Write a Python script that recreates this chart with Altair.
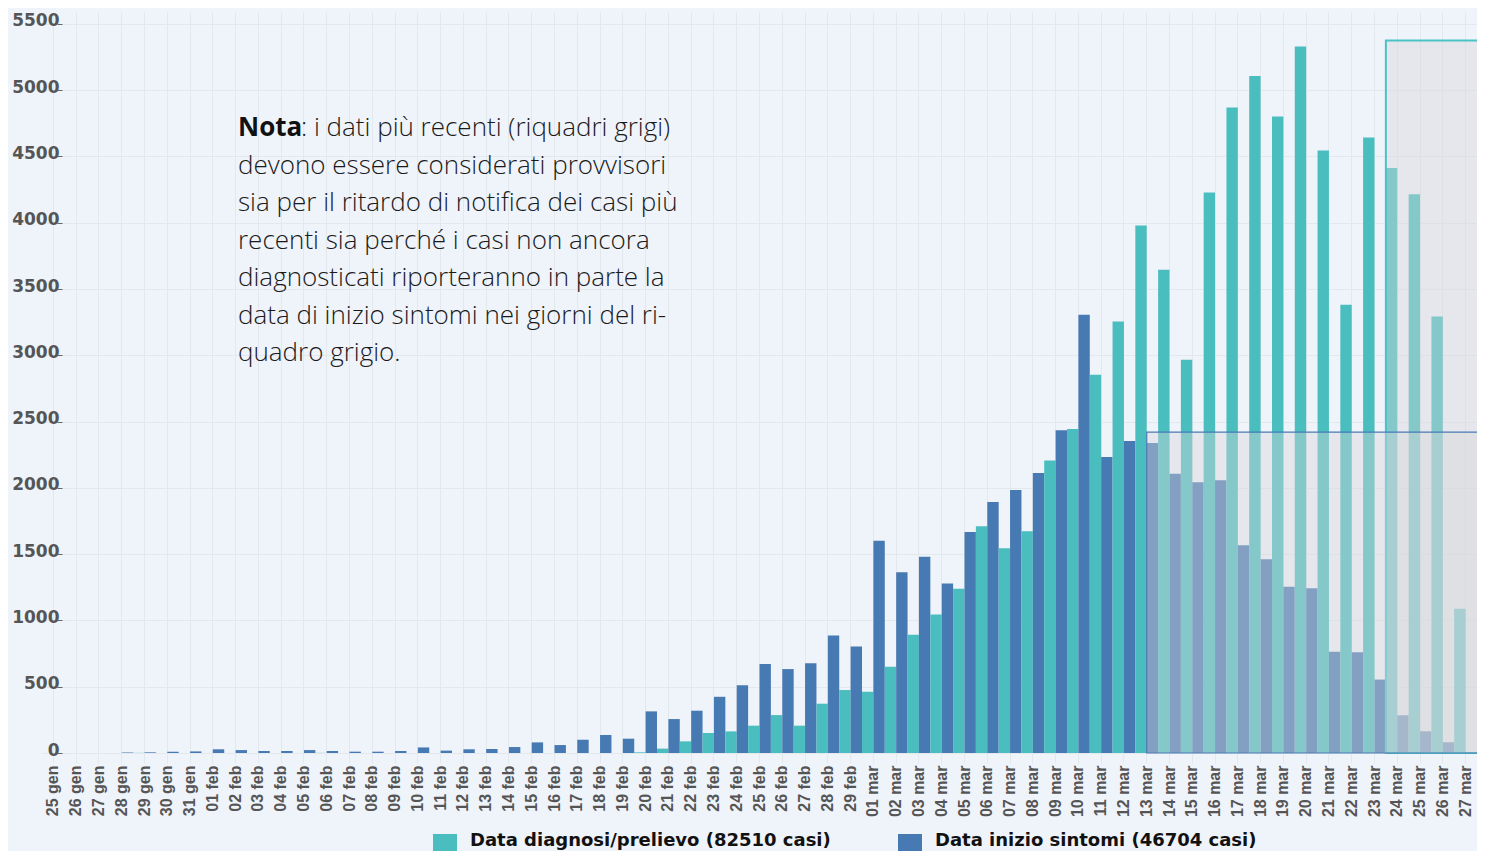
import altair as alt
import pandas as pd

# ---- data -------------------------------------------------------------
dates = [
    "25 gen", "26 gen", "27 gen", "28 gen", "29 gen", "30 gen", "31 gen",
    "01 feb", "02 feb", "03 feb", "04 feb", "05 feb", "06 feb", "07 feb",
    "08 feb", "09 feb", "10 feb", "11 feb", "12 feb", "13 feb", "14 feb",
    "15 feb", "16 feb", "17 feb", "18 feb", "19 feb", "20 feb", "21 feb",
    "22 feb", "23 feb", "24 feb", "25 feb", "26 feb", "27 feb", "28 feb",
    "29 feb",
    "01 mar", "02 mar", "03 mar", "04 mar", "05 mar", "06 mar", "07 mar",
    "08 mar", "09 mar", "10 mar", "11 mar", "12 mar", "13 mar", "14 mar",
    "15 mar", "16 mar", "17 mar", "18 mar", "19 mar", "20 mar", "21 mar",
    "22 mar", "23 mar", "24 mar", "25 mar", "26 mar", "27 mar",
]

diagnosi = [
    0, 0, 0, 0, 1, 0, 0,
    0, 0, 0, 0, 0, 1, 0, 0, 0, 0, 0, 0, 0, 0, 0, 0, 0, 0, 0,
    5, 33, 88, 151, 163, 206, 286, 206, 372, 475,
    462, 650, 893, 1044, 1240, 1710, 1544, 1672, 2207, 2444,
    2854, 3255, 3979, 3645, 2967, 4228, 4869, 5108, 4801, 5329,
    4545, 3381, 4643, 4414, 4216, 3293, 1089,
]

sintomi = [
    0, 0, 0, 3, 5, 10, 12,
    28, 22, 15, 15, 22, 15, 10, 10, 15, 42, 18, 28, 30, 45, 80, 60, 100, 136, 108,
    314, 256, 319, 424, 512, 671, 633, 678, 886, 803,
    1602, 1363, 1480, 1278, 1668, 1894, 1984, 2112, 2434, 3306,
    2233, 2354, 2339, 2107, 2042, 2057, 1567, 1461, 1255, 1243,
    763, 760, 554, 285, 164, 81, 0,
]

serie_names = ["Data diagnosi/prelievo (82510 casi)", "Data inizio sintomi (46704 casi)"]
serie_colors = ["#4abdbf", "#4779b2"]

y_ticks = [0, 500, 1000, 1500, 2000, 2500, 3000, 3500, 4000, 4500, 5000, 5500]

# grey "provisional" boxes (in day-index units, value units)
box_names = ["diagnosi", "sintomi"]
box_start = [59, 48.5]
box_end = [64, 64]
box_top = [5375, 2420]
box_stroke = ["#4bc3c6", "#4a7ab5"]
box_stroke_w = [2, 1.2]

nota_bold = "Nota"
nota_first = ": i dati più recenti (riquadri grigi)"
nota_lines = [
    "devono essere considerati provvisori",
    "sia per il ritardo di notifica dei casi più",
    "recenti sia perché i casi non ancora",
    "diagnosticati riporteranno in parte la",
    "data di inizio sintomi nei giorni del ri-",
    "quadro grigio.",
]

# ---- tables -------------------------------------------------------------
rows = []
for d, a, b in zip(dates, diagnosi, sintomi):
    rows.append({"data": d, "serie": serie_names[0], "casi": a})
    rows.append({"data": d, "serie": serie_names[1], "casi": b})
df = pd.DataFrame(rows)

box_df = pd.DataFrame({"nome": box_names, "start": box_start, "end": box_end, "top": box_top})

W, H = 1435, 741
YMAX = 5590
y_scale = alt.Scale(domain=[0, YMAX], nice=False, zero=True)
GRID = "#e3e8ed"

y_axis = alt.Axis(
    title=None,
    values=y_ticks,
    format="d",
    offset=-20,
    labelFont="DejaVu Sans",
    labelFontWeight="bold",
    labelFontSize=17,
    labelColor="#555555",
    tickSize=5,
    tickColor="#666666",
    labelPadding=-2,
    labelOffset=-3,
    domain=False,
    grid=True,
    gridColor=GRID,
)

bars = alt.Chart(df).mark_bar().encode(
    x=alt.X(
        "data:N",
        sort=dates,
        scale=alt.Scale(paddingInner=0, paddingOuter=0),
        axis=alt.Axis(
            title=None,
            labelAngle=270,
            labelAlign="right",
            labelBaseline="middle",
            labelFont="Liberation Sans",
            labelFontWeight="bold",
            labelFontSize=16,
            labelColor="#555555",
            labelPadding=2,
            tickSize=10,
            tickColor=GRID,
            domain=False,
            grid=True,
            gridColor=GRID,
            labelOverlap=False,
        ),
    ),
    xOffset=alt.XOffset("serie:N", sort=serie_names, scale=alt.Scale(paddingInner=0, paddingOuter=0)),
    y=alt.Y("casi:Q", scale=y_scale, axis=y_axis),
    color=alt.Color(
        "serie:N",
        scale=alt.Scale(domain=serie_names, range=serie_colors),
        legend=alt.Legend(
            title=None,
            orient="none",
            legendX=391,
            legendY=822,
            direction="horizontal",
            symbolType="square",
            symbolSize=576,
            symbolStrokeWidth=0,
            symbolOpacity=1,
            labelFont="DejaVu Sans",
            labelFontWeight="bold",
            labelFontSize=18,
            labelColor="#111111",
            labelBaseline="alphabetic",
            labelOffset=13,
            labelLimit=600,
            columnPadding=67,
            padding=0,
        ),
    ),
)

boxes = alt.Chart(box_df).mark_rect(fill="#d7d7d8", fillOpacity=0.42).encode(
    x=alt.X("start:Q", scale=alt.Scale(domain=[0, 63], nice=False, zero=False), axis=None),
    x2="end:Q",
    y=alt.Y("top:Q", scale=y_scale, axis=y_axis),
    y2=alt.datum(0),
    stroke=alt.Stroke("nome:N", scale=alt.Scale(domain=box_names, range=box_stroke), legend=None),
    strokeWidth=alt.StrokeWidth("nome:N", scale=alt.Scale(domain=box_names, range=box_stroke_w), legend=None),
    order=alt.Order("top:Q", sort="descending"),
)

dummy = pd.DataFrame({"k": [0]})
NOTE_FONT = "Open Sans"
NOTE_SIZE = 26
note1 = alt.Chart(dummy).mark_text(
    text=nota_bold, font=NOTE_FONT, fontWeight="bold", fontSize=NOTE_SIZE, color="#111111",
    align="left", baseline="alphabetic",
).encode(x=alt.value(196), y=alt.value(124))
note2 = alt.Chart(dummy).mark_text(
    text=nota_first, font=NOTE_FONT, fontWeight=300, fontSize=NOTE_SIZE, color="#1a1a1a",
    align="left", baseline="alphabetic",
).encode(x=alt.value(259), y=alt.value(124))
note3 = alt.Chart(dummy).mark_text(
    text=nota_lines, font=NOTE_FONT, fontWeight=300, fontSize=NOTE_SIZE, color="#1a1a1a",
    align="left", baseline="alphabetic", lineHeight=37.5,
).encode(x=alt.value(196), y=alt.value(161.5))

chart = (
    alt.layer(bars, boxes, note1, note2, note3)
    .resolve_scale(x="independent")
    .properties(
        width=W,
        height=H,
        autosize=alt.AutoSizeParams(type="none"),
        padding={"left": 34, "top": 4, "right": 0, "bottom": 98},
        background="#eff3fa",
    )
    .configure_view(stroke=None)
)

chart.save("out.html", embed_options={"renderer": "svg", "actions": False})
